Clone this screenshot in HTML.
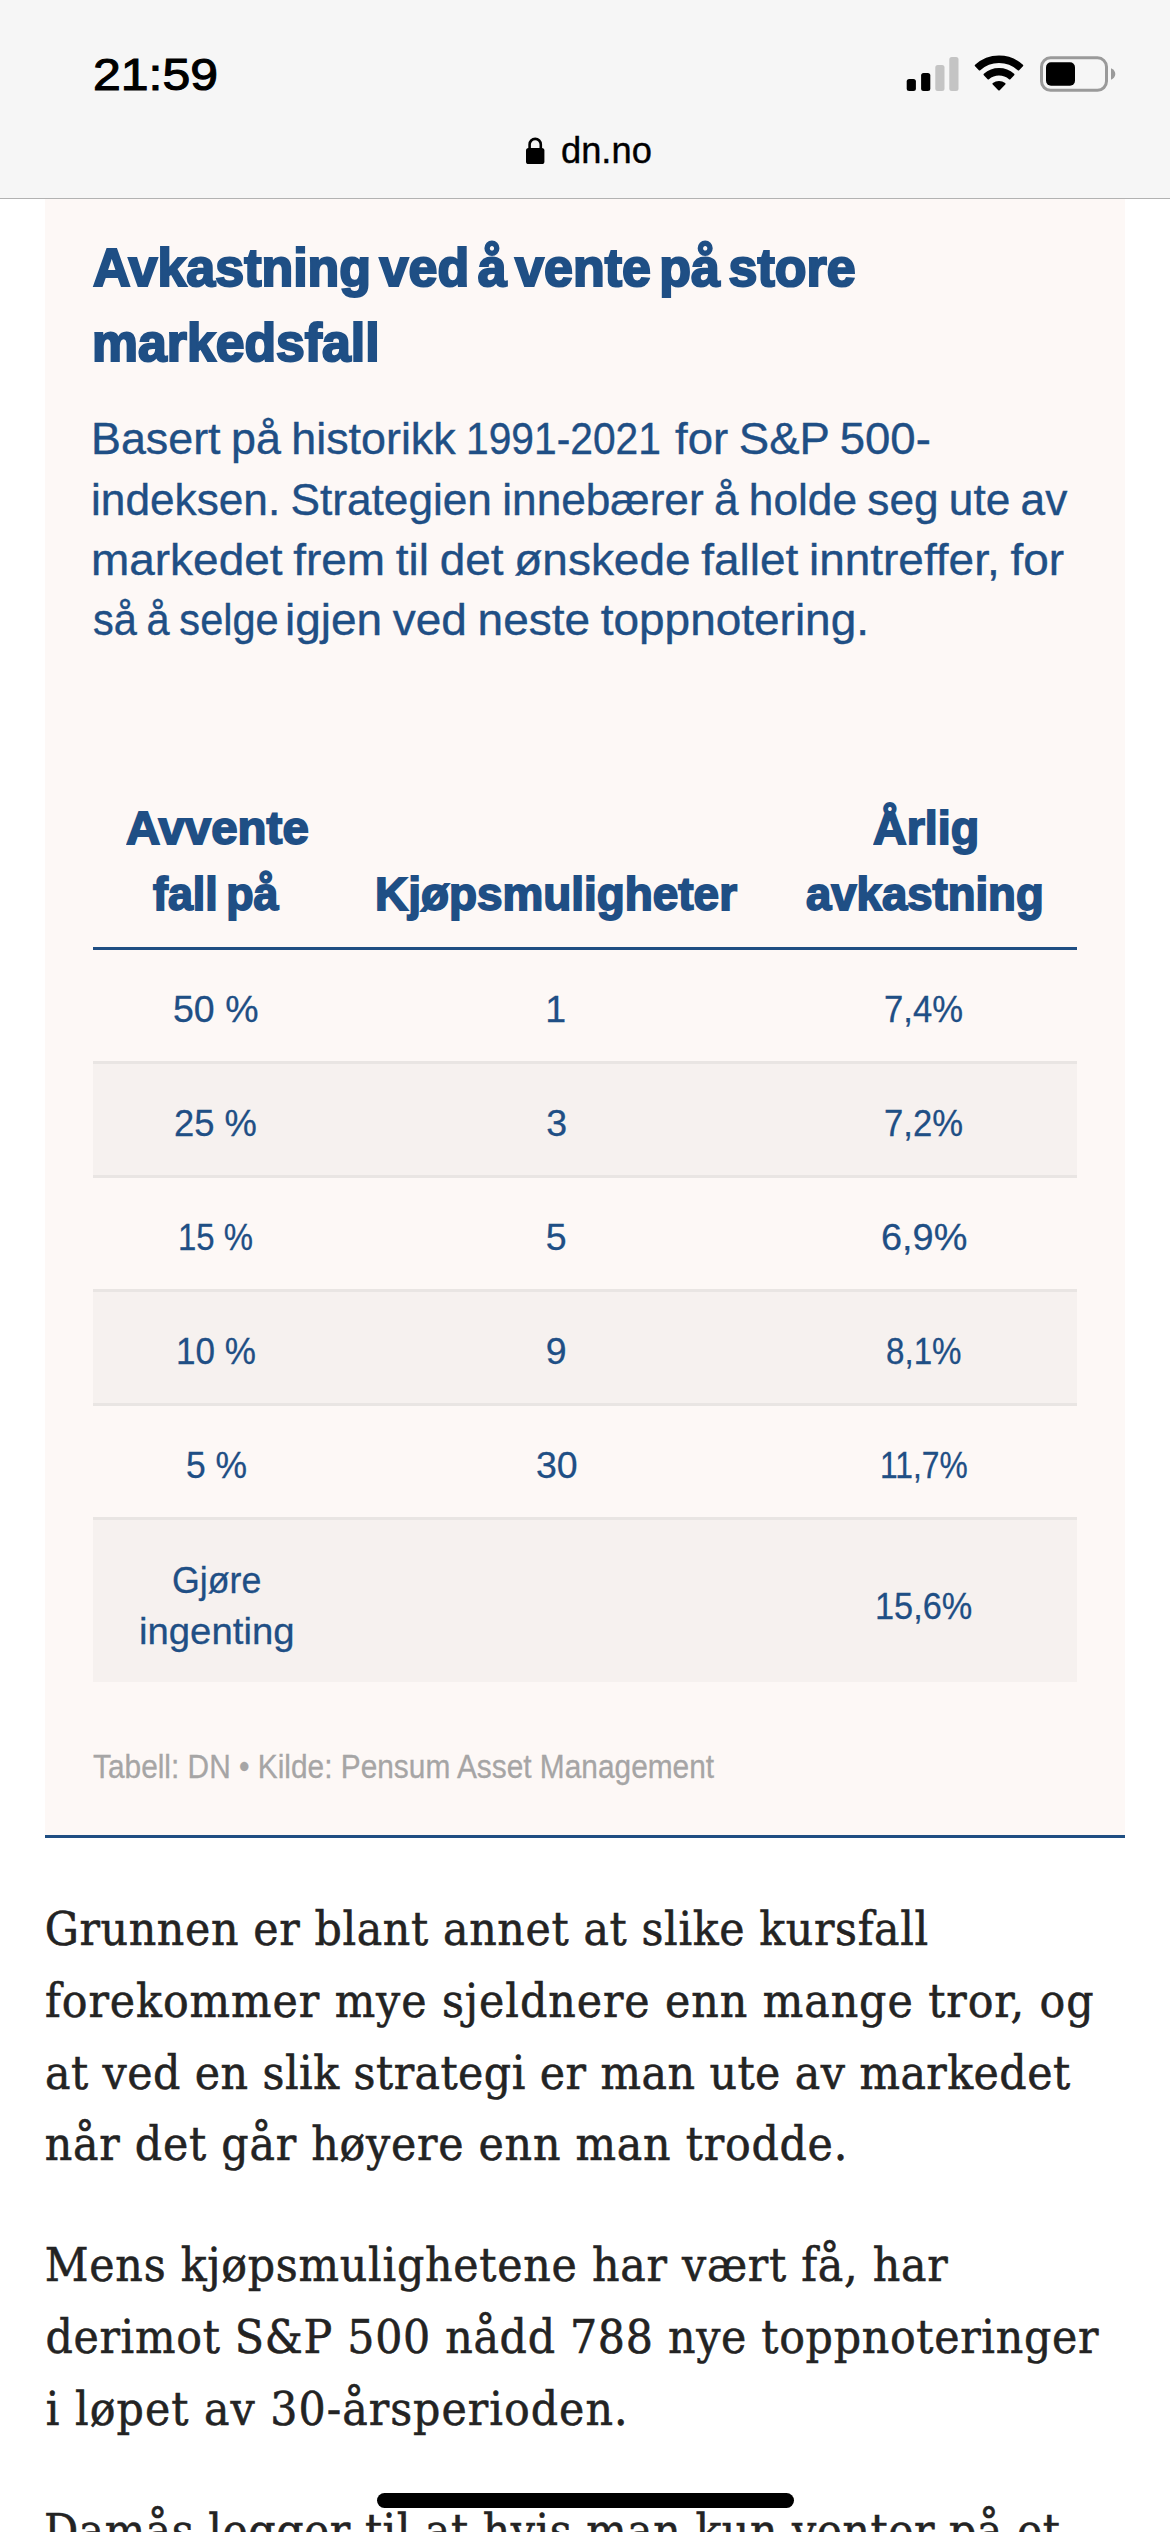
<!DOCTYPE html>
<html lang="no">
<head>
<meta charset="utf-8">
<meta name="viewport" content="width=1170">
<title>dn.no</title>
<style>

html,body{margin:0;padding:0;}
html{width:1170px;height:2532px;overflow:hidden;background:#fff;}
body{width:1170px;height:2532px;overflow:hidden;background:#fff;font-family:"Liberation Sans",sans-serif;}
#page{position:relative;width:1170px;height:2532px;overflow:hidden;background:#fff;contain:paint;}
.abs{position:absolute;}
.ln{position:absolute;white-space:nowrap;line-height:1;transform-origin:0 0;margin:0;}
#chrome{left:0;top:0;width:1170px;height:198px;background:#f6f6f6;border-bottom:1px solid #b2b2b2;}
.time{font-size:45px;font-weight:400;color:#000;-webkit-text-stroke:1.1px #000;}
.url{font-size:36.3px;color:#000;-webkit-text-stroke:0.4px #000;}
#card{left:45px;top:199px;width:1080px;height:1636px;background:#fdf8f6;border-bottom:3px solid #1f4e82;}
.title{font-size:53px;font-weight:700;color:#1f4f85;-webkit-text-stroke:2.2px #1f4f85;word-spacing:-6px;}
.sub{font-size:45px;color:#1f4f85;-webkit-text-stroke:0.4px #1f4f85;word-spacing:-2px;}
.th{font-size:45.5px;font-weight:700;color:#1f4f85;-webkit-text-stroke:1.8px #1f4f85;word-spacing:-4px;}
.td{font-size:37.5px;color:#1f4f85;-webkit-text-stroke:0.3px #1f4f85;}
.foot{font-size:33px;color:#a6a5a5;-webkit-text-stroke:0.3px #a6a5a5;}
.body{font-family:"DejaVu Serif Condensed","DejaVu Serif","Liberation Serif",serif;font-stretch:condensed;font-size:47.5px;color:#232323;-webkit-text-stroke:0.55px #232323;}
.row{left:93px;width:984px;box-sizing:border-box;}
.shade{background:#f6f1ef;}
.rb{border-bottom:3px solid #e9e5e3;}
#hline{left:93px;top:947px;width:984px;height:3px;background:#1f4e82;}
#home{left:377px;top:2492.5px;width:417px;height:15.5px;border-radius:8px;background:#000;}

</style>
</head>
<body>
<div id="page">
<div id="chrome" class="abs"></div>
<svg class="abs" style="left:900px;top:50px" width="230" height="50" viewBox="900 50 230 50">
<rect x="906.7" y="79" width="9.2" height="12" rx="2.5" fill="#000"/>
<rect x="921.1" y="73" width="9.2" height="18" rx="2.5" fill="#000"/>
<rect x="935.3" y="65" width="9.2" height="26" rx="2.5" fill="#c4c4c4"/>
<rect x="949.3" y="57" width="9.2" height="34" rx="2.5" fill="#c4c4c4"/>
<path d="M975.76 65.50 A34.50 34.50 0 0 1 1022.24 65.50 L1018.41 69.46 A29.00 29.00 0 0 0 979.59 69.46 Z" fill="#000" stroke="#000" stroke-width="2.0" stroke-linejoin="round"/>
<path d="M984.52 74.57 A21.90 21.90 0 0 1 1013.48 74.57 L1009.65 78.53 A16.40 16.40 0 0 0 988.35 78.53 Z" fill="#000" stroke="#000" stroke-width="2.0" stroke-linejoin="round"/>
<path d="M993.44 83.80 A9.10 9.10 0 0 1 1004.56 83.80 L999.00 89.56 Z" fill="#000" stroke="#000" stroke-width="2.0" stroke-linejoin="round"/>
<rect x="1041.5" y="57.8" width="65" height="32.5" rx="9" fill="none" stroke="#9a9a9a" stroke-width="3"/>
<rect x="1046" y="62.3" width="29" height="23.4" rx="5" fill="#000"/>
<path d="M1111 68.3 C1113.5 69.3 1115.3 71.5 1115.3 74 C1115.3 76.5 1113.5 78.8 1111 79.8 Z" fill="#9a9a9a"/>
</svg>
<svg class="abs" style="left:524px;top:135px" width="24" height="32" viewBox="524 135 24 32">
<path d="M529.6 149 V144.5 a5.6 5.6 0 0 1 11.2 0 V149" fill="none" stroke="#000" stroke-width="2.6"/>
<rect x="526" y="148" width="18.4" height="16" rx="2.6" fill="#000"/>
</svg>
<div id="card" class="abs"></div>
<div id="hline" class="abs"></div>
<div class="abs row rb" style="top:950px;height:114px"></div>
<div class="abs row rb shade" style="top:1064px;height:114px"></div>
<div class="abs row rb" style="top:1178px;height:114px"></div>
<div class="abs row rb shade" style="top:1292px;height:114px"></div>
<div class="abs row rb" style="top:1406px;height:114px"></div>
<div class="abs row shade" style="top:1520px;height:162px"></div>

<div class="ln time" id="time" style="left:93.00px;top:52.00px;transform:scaleX(1.1101);">21:59</div>
<div class="ln url" id="url" style="left:561.00px;top:133.30px;">dn.no</div>
<div class="ln title" id="t1" style="left:92.75px;top:241.00px;transform:scaleX(0.9801);">Avkastning ved å vente på store</div>
<div class="ln title" id="t2" style="left:92.00px;top:316.00px;transform:scaleX(0.9759);">markedsfall</div>
<div class="ln sub" id="s1" style="left:90.75px;top:416.00px;transform:scaleX(0.9959);">Basert på historikk</div>
<div class="ln sub" id="s1b" style="left:466.30px;top:416.00px;transform:scaleX(0.9057);">1991-2021</div>
<div class="ln sub" id="s1c" style="left:675.00px;top:416.00px;transform:scaleX(1.0120);">for S&amp;P 500-</div>
<div class="ln sub" id="s2" style="left:91.20px;top:477.00px;transform:scaleX(0.9820);">indeksen. Strategien innebærer å holde seg ute av</div>
<div class="ln sub" id="s3" style="left:90.65px;top:537.00px;transform:scaleX(1.0209);">markedet frem til det ønskede fallet inntreffer, for</div>
<div class="ln sub" id="s4" style="left:92.60px;top:597.00px;transform:scaleX(0.9232);">så å selge</div>
<div class="ln sub" id="s4b" style="left:284.85px;top:597.00px;transform:scaleX(1.0211);">igjen ved neste toppnotering.</div>
<div class="ln th" id="h1a" style="left:125.90px;top:806.00px;transform:scaleX(1.0423);">Avvente</div>
<div class="ln th" id="h1b" style="left:153.00px;top:871.60px;transform:scaleX(0.9846);">fall på</div>
<div class="ln th" id="h2" style="left:374.50px;top:871.60px;transform:scaleX(1.0084);">Kjøpsmuligheter</div>
<div class="ln th" id="h3a" style="left:872.75px;top:806.00px;transform:scaleX(1.0248);">Årlig</div>
<div class="ln th" id="h3b" style="left:806.00px;top:871.60px;">avkastning</div>
<div class="ln td" id="c11" style="left:173.00px;top:991.00px;">50 %</div>
<div class="ln td" id="c21" style="left:174.45px;top:1105.00px;transform:scaleX(0.9700);">25 %</div>
<div class="ln td" id="c31" style="left:178.30px;top:1219.00px;transform:scaleX(0.8780);">15 %</div>
<div class="ln td" id="c41" style="left:175.95px;top:1333.00px;transform:scaleX(0.9354);">10 %</div>
<div class="ln td" id="c51" style="left:185.80px;top:1447.00px;transform:scaleX(0.9461);">5 %</div>
<div class="ln td" id="c12" style="left:545.15px;top:991.00px;">1</div>
<div class="ln td" id="c22" style="left:546.15px;top:1105.00px;">3</div>
<div class="ln td" id="c32" style="left:545.65px;top:1219.00px;">5</div>
<div class="ln td" id="c42" style="left:545.65px;top:1333.00px;">9</div>
<div class="ln td" id="c52" style="left:536.00px;top:1447.00px;">30</div>
<div class="ln td" id="c13" style="left:883.85px;top:991.00px;transform:scaleX(0.9241);">7,4%</div>
<div class="ln td" id="c23" style="left:883.85px;top:1105.00px;transform:scaleX(0.9241);">7,2%</div>
<div class="ln td" id="c33" style="left:880.60px;top:1219.00px;transform:scaleX(1.0097);">6,9%</div>
<div class="ln td" id="c43" style="left:886.10px;top:1333.00px;transform:scaleX(0.8834);">8,1%</div>
<div class="ln td" id="c53" style="left:879.60px;top:1447.00px;transform:scaleX(0.8480);">11,7%</div>
<div class="ln td" id="c61a" style="left:171.50px;top:1561.80px;transform:scaleX(0.9534);">Gjøre</div>
<div class="ln td" id="c61b" style="left:139.00px;top:1612.60px;transform:scaleX(1.0216);">ingenting</div>
<div class="ln td" id="c63" style="left:874.75px;top:1588.20px;transform:scaleX(0.9148);">15,6%</div>
<div class="ln foot" id="foot" style="left:92.90px;top:1750.00px;transform:scaleX(0.9047);">Tabell: DN • Kilde: Pensum Asset Management</div>
<div class="ln body" id="b1" style="left:44.65px;top:1905.00px;letter-spacing:0.638px;">Grunnen er blant annet at slike kursfall</div>
<div class="ln body" id="b2" style="left:45.00px;top:1976.80px;letter-spacing:0.952px;">forekommer mye sjeldnere enn mange tror, og</div>
<div class="ln body" id="b3" style="left:45.00px;top:2048.50px;letter-spacing:0.467px;">at ved en slik strategi er man ute av markedet</div>
<div class="ln body" id="b4" style="left:44.75px;top:2120.30px;letter-spacing:0.773px;">når det går høyere enn man trodde.</div>
<div class="ln body" id="b5" style="left:44.80px;top:2241.00px;letter-spacing:0.757px;">Mens kjøpsmulighetene har vært få, har</div>
<div class="ln body" id="b6" style="left:45.45px;top:2313.00px;letter-spacing:0.707px;">derimot S&amp;P 500 nådd 788 nye toppnoteringer</div>
<div class="ln body" id="b7" style="left:45.80px;top:2384.80px;letter-spacing:1.032px;">i løpet av 30-årsperioden.</div>
<div class="ln body" id="b8" style="left:44.00px;top:2506.50px;letter-spacing:0.523px;">Damås legger til at hvis man kun venter på et</div>
<div id="home" class="abs"></div>

</div>
</body>
</html>
